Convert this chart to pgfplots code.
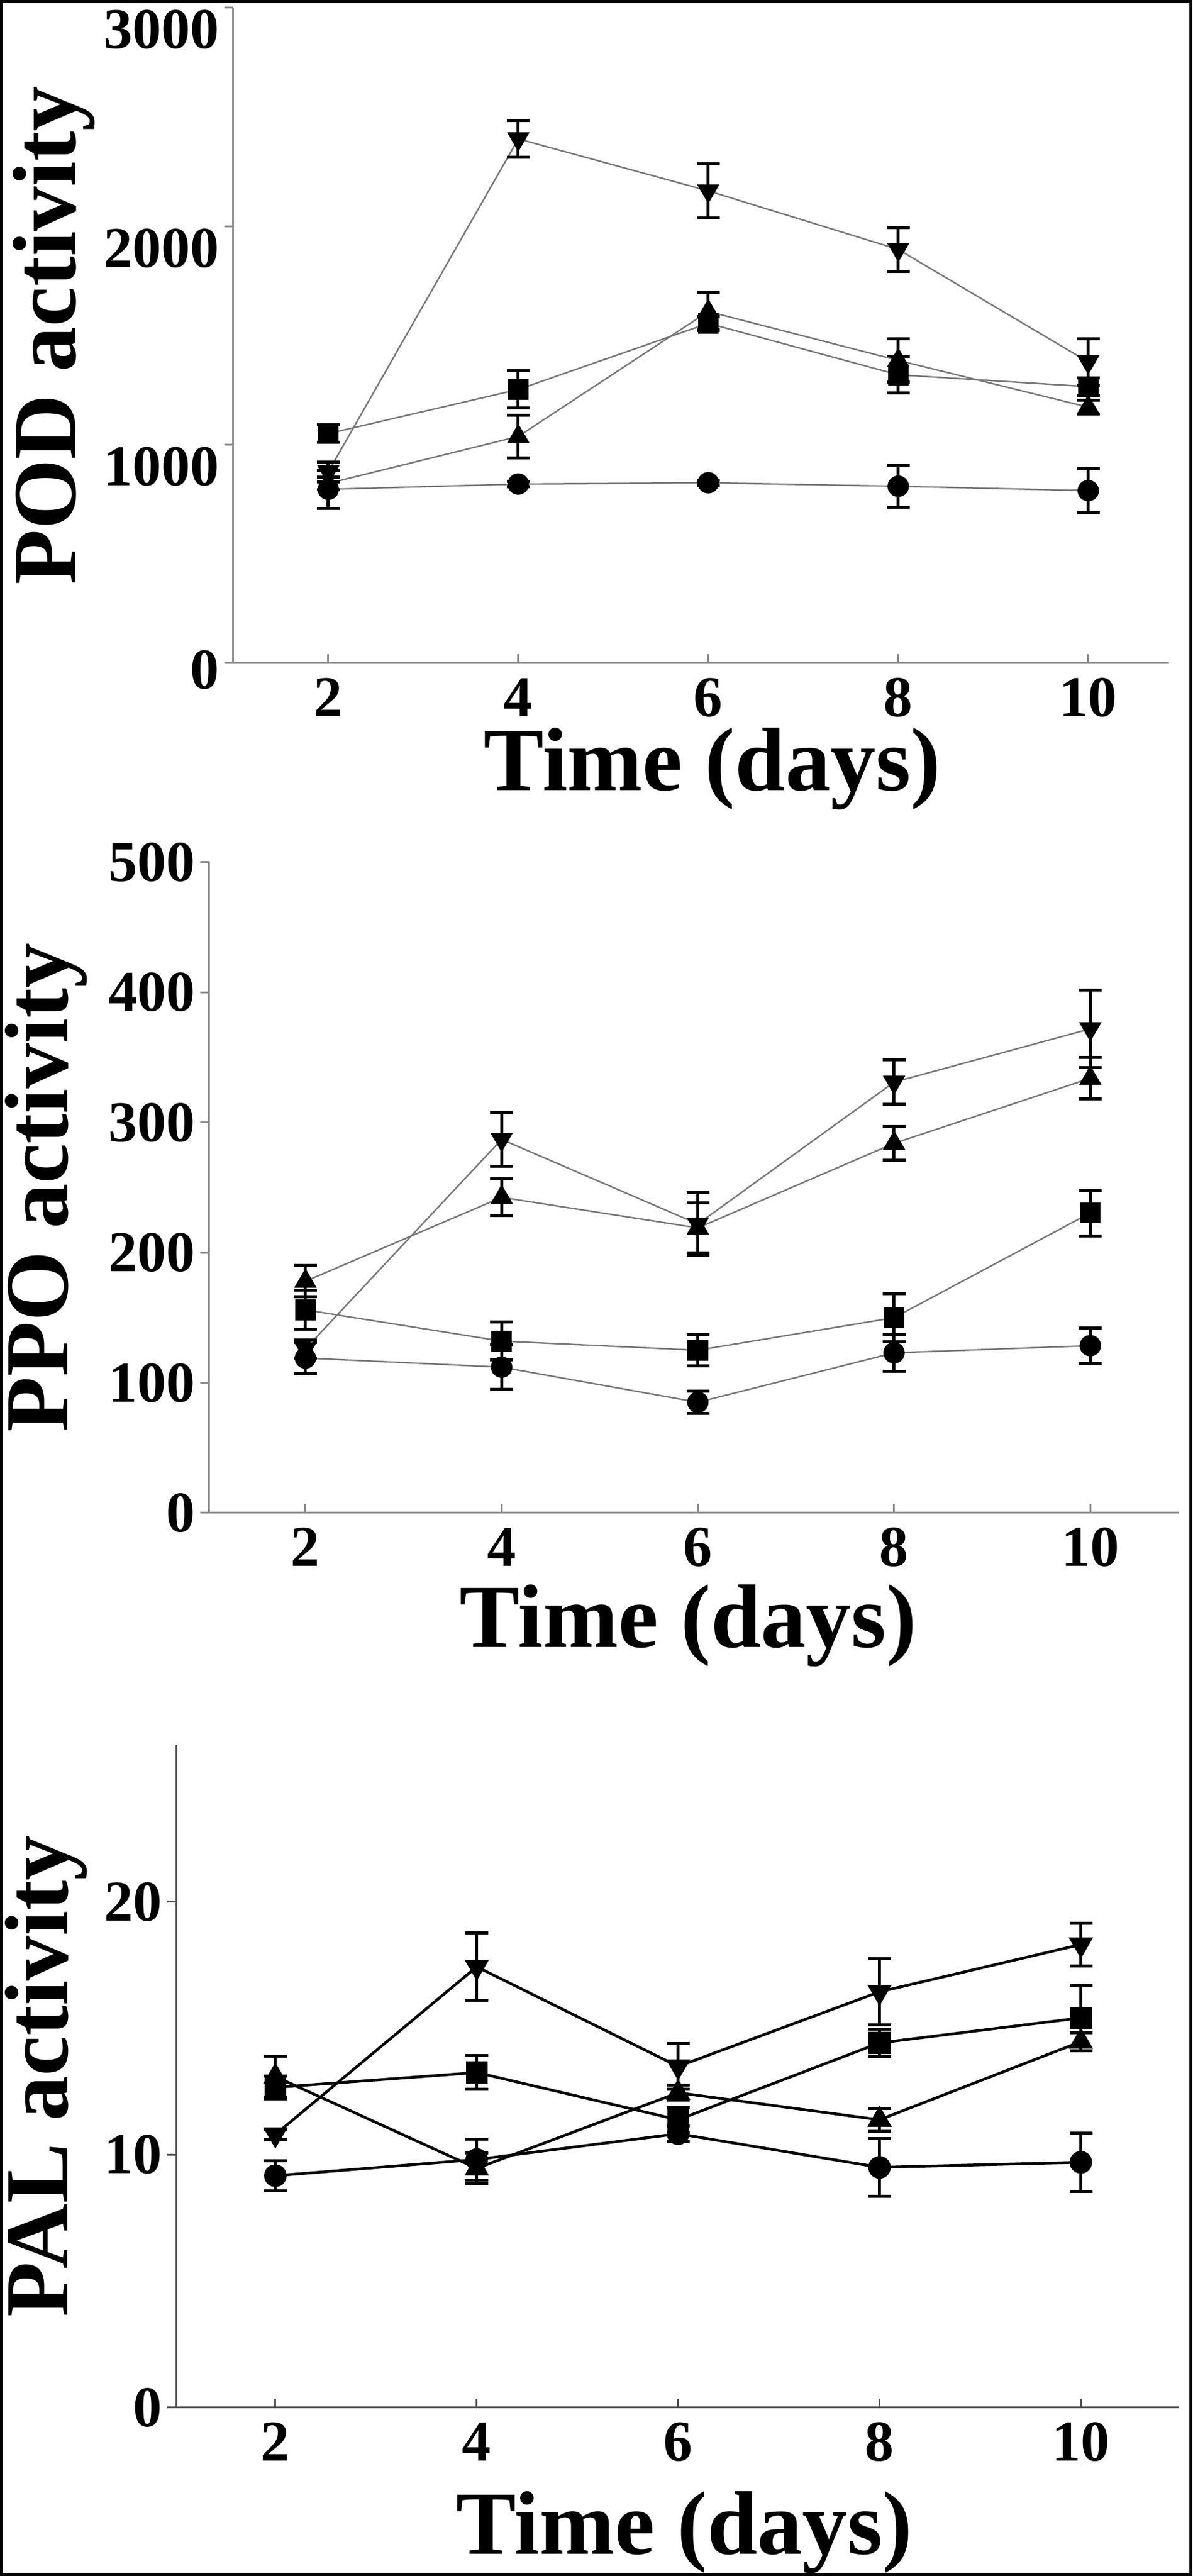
\documentclass[border=0pt]{standalone}
\usepackage{pgfplots}
\pgfplotsset{compat=1.18}
\usepackage{fontspec}
\setmainfont{Liberation Serif}
\definecolor{axgray}{RGB}{138,138,138}
\definecolor{axdark}{RGB}{80,80,80}
\definecolor{lngray}{RGB}{120,120,120}
\begin{document}
\begin{tikzpicture}
\useasboundingbox (0pt,0pt) rectangle (198.3pt,428.4pt);
\pgfplotsset{
  panel/.style={
    scale only axis,
    axis lines=left,
    axis line style={-, line width=0.3pt},
    xtick={2,4,6,8,10},
    xticklabels={2,4,6,8,10},
    xtick align=inside,
    ytick align=outside,
    major tick length=1.5pt,
    tick style={line width=0.3pt},
    /pgf/number format/assume math mode=true,
    ticklabel style={font=\fontsize{9.6}{11}\selectfont\bfseries},
    xticklabel style={inner ysep=2.3pt},
    yticklabel style={inner xsep=0.6pt},
    label style={font=\fontsize{15}{18}\selectfont\bfseries},
    clip=false,
  },
  ser/.style={
    line width=0.25pt,
    mark size=1.65pt,
    error bars/y dir=both,
    error bars/y explicit,
    error bars/error bar style={line width=0.5pt, black, solid},
    error bars/error mark options={rotate=90, mark size=1.9pt, line width=0.5pt, black},
  },
}
% ---------------- POD ----------------
\begin{axis}[panel,
  at={(38.8pt,318.1pt)}, anchor=south west,
  width=155.6pt, height=109.0pt,
  xmin=1, xmax=10.85, ymin=0, ymax=3000,
  ytick={0,1000,2000,3000}, yticklabels={\raisebox{-3.6pt}[0pt][0pt]{0},1000,2000,3000},
  yticklabel style={anchor=north east, inner ysep=0.2pt},
  axis line style={draw=axgray}, tick style={draw=axgray},
  xlabel={Time (days)}, ylabel={POD activity},
  xlabel style={at={(axis description cs:0.512,-0.194)}, anchor=base},
  ylabel style={at={(axis description cs:-0.169,0.5)}, anchor=base},
]
\addplot[ser, color=lngray, mark=*, mark options={fill=black, draw=black}] coordinates {
 (2,796) +- (0,87) (4,820) +- (0,12) (6,826) +- (0,12) (8,810) +- (0,96) (10,790) +- (0,100)};
\addplot[ser, color=lngray, mark=square*, mark options={fill=black, draw=black, mark size=1.6pt}] coordinates {
 (2,1051) +- (0,40) (4,1253) +- (0,86) (6,1556) +- (0,30) (8,1320) +- (0,84) (10,1266) +- (0,40)};
\addplot[ser, color=lngray, mark=triangle*, mark options={fill=black, draw=black, mark size=1.9pt}] coordinates {
 (2,823) +- (0,30) (4,1038) +- (0,97) (6,1610) +- (0,86) (8,1386) +- (0,100) (10,1172) +- (0,32)};
\addplot[ser, color=lngray, mark=triangle*, mark options={fill=black, draw=black, mark size=1.9pt, rotate=180}] coordinates {
 (2,876) +- (0,45) (4,2400) +- (0,84) (6,2162) +- (0,123) (8,1894) +- (0,100) (10,1379) +- (0,107)};
\end{axis}
% ---------------- PPO ----------------
\begin{axis}[panel,
  at={(34.8pt,176.8pt)}, anchor=south west,
  width=161.2pt, height=108.2pt,
  xmin=1.02, xmax=10.9, ymin=0, ymax=500,
  ytick={0,100,200,300,400,500}, yticklabels={0,100,200,300,400,500},
  axis line style={draw=axgray}, tick style={draw=axgray},
  xlabel={Time (days)}, ylabel={PPO activity},
  xlabel style={at={(axis description cs:0.494,-0.207)}, anchor=base},
  ylabel style={at={(axis description cs:-0.146,0.5)}, anchor=base},
]
\addplot[ser, color=lngray, mark=*, mark options={fill=black, draw=black}] coordinates {
 (2,119) +- (0,12) (4,112) +- (0,17) (6,85) +- (0,8.5) (8,123) +- (0,14) (10,128.5) +- (0,13.5)};
\addplot[ser, color=lngray, mark=square*, mark options={fill=black, draw=black, mark size=1.6pt}] coordinates {
 (2,156) +- (0,15) (4,132) +- (0,14.5) (6,125) +- (0,12) (8,150) +- (0,18.5) (10,230.5) +- (0,17.5)};
\addplot[ser, color=lngray, mark=triangle*, mark options={fill=black, draw=black, mark size=1.9pt}] coordinates {
 (2,178) +- (0,12) (4,242.5) +- (0,14) (6,219) +- (0,19) (8,284) +- (0,13) (10,334) +- (0,16)};
\addplot[ser, color=lngray, mark=triangle*, mark options={fill=black, draw=black, mark size=1.9pt, rotate=180}] coordinates {
 (2,126) +- (0,7) (4,287) +- (0,20.5) (6,222) +- (0,24) (8,331) +- (0,17) (10,372) +- (0,30)};
\end{axis}
% ---------------- PAL ----------------
\begin{axis}[panel,
  at={(29.3pt,28.0pt)}, anchor=south west,
  width=166.7pt, height=110.2pt,
  xmin=1.015, xmax=10.97, ymin=0, ymax=26.2,
  ytick={0,10,20}, yticklabels={0,10,20},
  axis line style={draw=axdark}, tick style={draw=axdark},
  xlabel={Time (days)}, ylabel={PAL activity},
  xlabel style={at={(axis description cs:0.507,-0.221)}, anchor=base},
  ylabel style={at={(axis description cs:-0.108,0.5)}, anchor=base},
]
\addplot[ser, line width=0.45pt, color=black, mark=*, mark options={fill=black, draw=black}] coordinates {
 (2,9.17) +- (0,0.59) (4,9.81) +- (0,0.81) (6,10.83) +- (0,0.3) (8,9.5) +- (0,1.14) (10,9.7) +- (0,1.16)};
\addplot[ser, line width=0.45pt, color=black, mark=square*, mark options={fill=black, draw=black, mark size=1.6pt}] coordinates {
 (2,12.66) +- (0,0.45) (4,13.25) +- (0,0.67) (6,11.38) +- (0,0.5) (8,14.42) +- (0,0.55) (10,15.41) +- (0,1.3)};
\addplot[ser, line width=0.45pt, color=black, mark=triangle*, mark options={fill=black, draw=black, mark size=1.9pt}] coordinates {
 (2,13.09) +- (0,0.8) (4,9.46) +- (0,0.6) (6,12.45) +- (0,0.3) (8,11.38) +- (0,0.45) (10,14.47) +- (0,0.35)};
\addplot[ser, line width=0.45pt, color=black, mark=triangle*, mark options={fill=black, draw=black, mark size=1.9pt, rotate=180}] coordinates {
 (2,10.8) +- (0,0.2) (4,17.43) +- (0,1.33) (6,13.49) +- (0,0.9) (8,16.44) +- (0,1.3) (10,18.31) +- (0,0.85)};
\end{axis}
\draw[line width=0.5pt] (0.25pt,0.25pt) rectangle (198.05pt,428.15pt);
\end{tikzpicture}
\end{document}
